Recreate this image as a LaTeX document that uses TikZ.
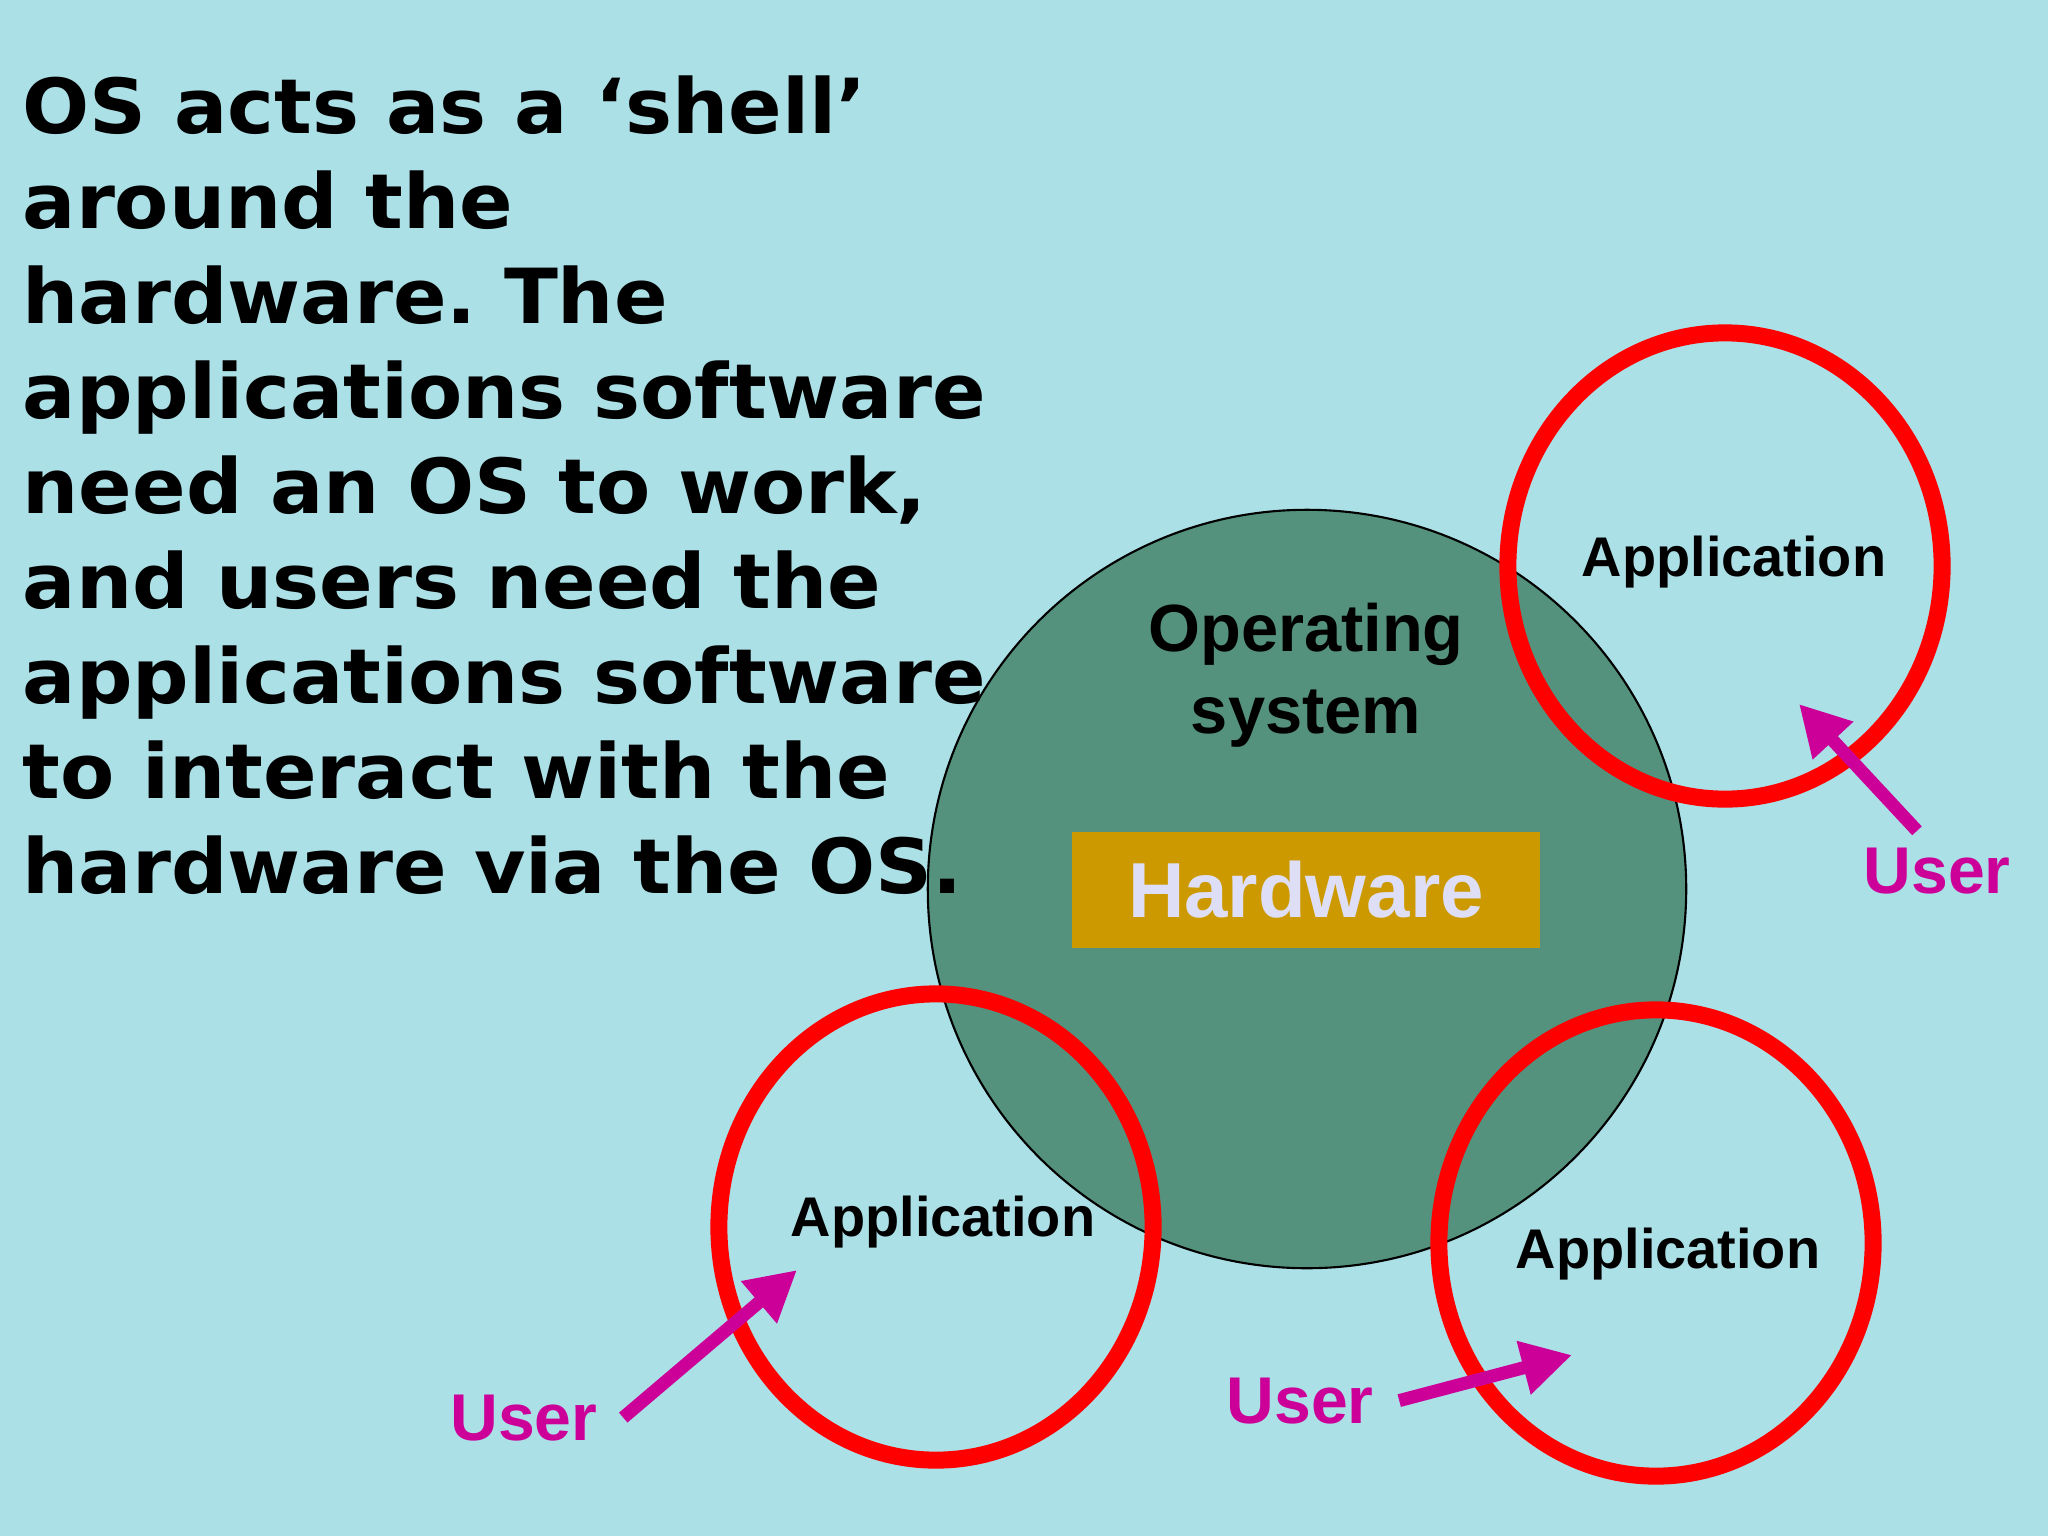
\documentclass[tikz,border=0pt]{standalone}
\usepackage{fontspec}
\setmainfont{Liberation Sans}
\newfontfamily\slidefont{DejaVu Sans}[FakeStretch=1.04]
\usetikzlibrary{shapes.geometric,arrows.meta}
\definecolor{waterblue}{RGB}{172,224,231}
\definecolor{osgreen}{RGB}{84,146,126}
\definecolor{hwgold}{RGB}{204,153,0}
\definecolor{hwtext}{RGB}{222,222,246}
\definecolor{usermagenta}{RGB}{204,0,153}
\definecolor{ringred}{RGB}{255,0,0}
\frenchspacing

\begin{document}
\begin{tikzpicture}[
    x=0.01cm, y=-0.01cm,
    osdisk/.style={circle, draw=black, line width=0.6pt, fill=osgreen, minimum size=7.58cm, inner sep=0pt},
    hwblock/.style={rectangle, fill=hwgold, minimum width=4.68cm, minimum height=1.16cm, text=hwtext, font=\fontsize{22.2}{26}\selectfont\bfseries},
    appring/.style={ellipse, draw=ringred, line width=0.17cm, minimum width=4.34cm, minimum height=4.66cm},
    applabel/.style={anchor=base, inner sep=0pt, font=\fontsize{15.9}{19}\selectfont\bfseries},
    userlabel/.style={anchor=base, inner sep=0.25cm, text=usermagenta, font=\fontsize{18.8}{22}\selectfont\bfseries},
    userarrow/.style={-{Triangle[length=0.5cm, width=0.52cm]}, line width=0.13cm, draw=usermagenta}
]
\useasboundingbox (0,0) rectangle (2048,1536);
\fill[waterblue] (0,0) rectangle (2048,1536);

% operating system and hardware
\node[osdisk] (os) at (1307,889) {};
\node[hwblock] (hw) at (1306,890) {Hardware};
\node[anchor=north, align=center, inner sep=0pt, font=\fontsize{19}{23.3}\selectfont\bfseries] (ostext) at (1306,602) {Operating\\system};

% applications
\node[appring] (apptr) at (1725,566) {};
\node[appring] (appbl) at (936,1227) {};
\node[appring] (appbr) at (1656,1243) {};
\node[applabel] (lbltr) at (1734,576) {Application};
\node[applabel] (lblbl) at (943,1236) {Application};
\node[applabel] (lblbr) at (1668,1268) {Application};

% users
\node[userlabel] (usertr) at (1937,893) {User};
\node[userlabel] (userbl) at (524,1440) {User};
\node[userlabel] (userbr) at (1300,1423) {User};
\coordinate (tiptr) at (1799,704);
\coordinate (tipbl) at (797,1270);
\coordinate (tipbr) at (1572,1355);
\draw[userarrow] ([xshift=-0.2cm,yshift=-0.09cm]usertr.north) -- (tiptr);
\draw[userarrow] (userbl.east) -- (tipbl);
\draw[userarrow] (userbr.east) -- (tipbr);

% caption text
\node[anchor=north west, inner sep=0pt, align=left, font=\fontsize{21.6}{27}\slidefont\bfseries] (caption) at (22,75) {OS acts as a ‘shell’\\around the\\hardware. The\\applications software\\need an OS to work,\\and users need the\\applications software\\to interact with the\\hardware via the OS.};

\end{tikzpicture}
\end{document}
